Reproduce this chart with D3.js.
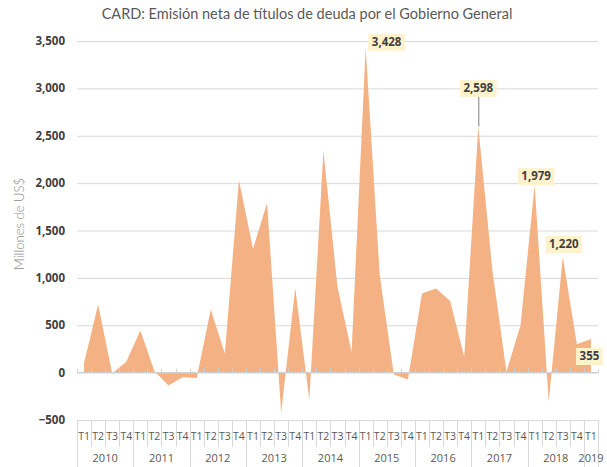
<!DOCTYPE html>
<html>
<head>
  <meta charset="UTF-8">
  <title>CARD emision neta</title>
  <style>
    body { margin: 0; background: #fff; }
    .title { font-family: Lato, sans-serif; font-size: 14.5px; fill: #595959; text-anchor: middle; }
    .ylab { font-family: "Open Sans", sans-serif; font-size: 11.5px; font-weight: bold; fill: #404040; text-anchor: end; }
    .ytitle { font-family: Lato, sans-serif; font-size: 13px; font-weight: 300; fill: #8c8c8c; text-anchor: middle; }
    .qlab { font-family: "Open Sans", sans-serif; font-size: 10.5px; fill: #595959; text-anchor: middle; }
    .yrlab { font-family: "Open Sans", sans-serif; font-size: 11px; fill: #595959; text-anchor: middle; }
    .dlab { font-family: "Open Sans", sans-serif; font-size: 11.5px; font-weight: bold; fill: #404040; text-anchor: middle; }
  </style>
</head>
<body>
<svg></svg>
<script src="https://d3js.org/d3.v7.min.js"></script>
<script>

let width = 607, height = 467;

// data
var years = ["2010", "2011", "2012", "2013", "2014", "2015", "2016", "2017", "2018", "2019"];
var quarters = ["T1", "T2", "T3", "T4"];
var values = [100, 720, -10, 115, 445, 15, -135, -50, -58, 666, 202, 2030, 1308, 1790, -423, 894,
              -290, 2340, 904, 219, 3428, 1027, -20, -72, 834, 887, 757, 167, 2598, 1080, 10, 500,
              1979, -307, 1220, 300, 355];
var yTicks = [-500, 0, 500, 1000, 1500, 2000, 2500, 3000, 3500];
// labelled points: index, label offset dx, dy, leader line
var labelIdx = [20, 28, 32, 34, 36];
var labelDx = [21, 0, 1.5, 1, -1.5];
var labelDy = [-6, -38.5, -9, -13, 17];
var labelLeader = [false, true, false, false, false];

// one entry per quarter
var cats = [];
values.forEach(function (v, i) {
  cats.push({ i: i, q: quarters[i % 4], year: years[Math.floor(i / 4)], v: v });
});

let svg = d3.select("svg").attr("width", width).attr("height", height);

var x = d3.scaleBand().domain(d3.range(values.length)).range([77, 598]);
var y = d3.scaleLinear().domain([-500, 3500]).range([420, 41]);
var cx = function (i) { return x(i) + x.bandwidth() / 2; };

svg.append("text").attr("class", "title").attr("x", 307).attr("y", 19)
  .text("CARD: Emisión neta de títulos de deuda por el Gobierno General");

// gridlines
svg.append("g").selectAll("line").data(yTicks.filter(function (d) { return d != 0; }))
  .enter().append("line")
  .attr("x1", 77).attr("x2", 598)
  .attr("y1", function (d) { return y(d) + 0.5; }).attr("y2", function (d) { return y(d) + 0.5; })
  .style("stroke", "#d9d9d9").style("stroke-width", 1);

svg.append("g").selectAll("text").data(yTicks).enter().append("text")
  .attr("class", "ylab").attr("x", 65).attr("y", function (d) { return y(d) + 4; })
  .text(function (d) { return d3.format(",")(d); });

svg.append("text").attr("class", "ytitle")
  .attr("transform", "translate(24,224) rotate(-90)")
  .text("Millones de US$");

// area
var area = d3.area()
  .x(function (d) { return cx(d.i); })
  .y0(y(0))
  .y1(function (d) { return y(d.v); });

svg.append("path").datum(cats).attr("d", area)
  .style("fill", "#f4b183");

// zero axis with small ticks
svg.append("line").attr("x1", 77).attr("x2", 598).attr("y1", y(0)).attr("y2", y(0))
  .style("stroke", "#d0d0d0").style("stroke-width", 1.5);
svg.append("g").selectAll("line").data(d3.range(values.length + 1)).enter().append("line")
  .attr("x1", function (d) { return Math.round(77 + d * x.step()) + 0.5; })
  .attr("x2", function (d) { return Math.round(77 + d * x.step()) + 0.5; })
  .attr("y1", y(0)).attr("y2", y(0) - 4)
  .style("stroke", "#d0d0d0").style("stroke-width", 1);

// category axis box
var ax = svg.append("g");
ax.selectAll("line").data(d3.range(values.length + 1)).enter().append("line")
  .attr("x1", function (d) { return Math.round(77 + d * x.step()) + 0.5; })
  .attr("x2", function (d) { return Math.round(77 + d * x.step()) + 0.5; })
  .attr("y1", 420)
  .attr("y2", function (d) { return (d % 4 == 0 || d == values.length) ? 467 : 447; })
  .style("stroke", "#d9d9d9").style("stroke-width", 1);

ax.selectAll("text.qlab").data(cats).enter().append("text")
  .attr("class", "qlab")
  .attr("x", function (d) { return cx(d.i); }).attr("y", 440)
  .text(function (d) { return d.q; });

ax.selectAll("text.yrlab").data(years).enter().append("text")
  .attr("class", "yrlab")
  .attr("x", function (d, k) {
    var first = k * 4, last = Math.min(k * 4 + 3, values.length - 1);
    return (x(first) + x(last) + x.bandwidth()) / 2;
  })
  .attr("y", 462)
  .text(function (d) { return d; });

// data labels
labelIdx.forEach(function (idx, k) {
  var px = cx(idx), py = y(values[idx]);
  var lx = px + labelDx[k], ly = py + labelDy[k];
  var g = svg.append("g");
  if (labelLeader[k]) {
    g.append("line").attr("x1", px + 0.5).attr("x2", px + 0.5).attr("y1", ly + 8).attr("y2", py)
      .style("stroke", "#7f7f7f").style("stroke-width", 1);
  }
  var rect = g.append("rect").style("fill", "#fff2cc");
  var t = g.append("text").attr("class", "dlab").attr("x", lx).attr("y", ly + 4)
    .text(d3.format(",")(values[idx]));
  var w = t.node().getComputedTextLength() + 7;
  rect.attr("x", lx - w / 2).attr("y", ly - 8).attr("width", w).attr("height", 17);
});

</script>
</body>
</html>
